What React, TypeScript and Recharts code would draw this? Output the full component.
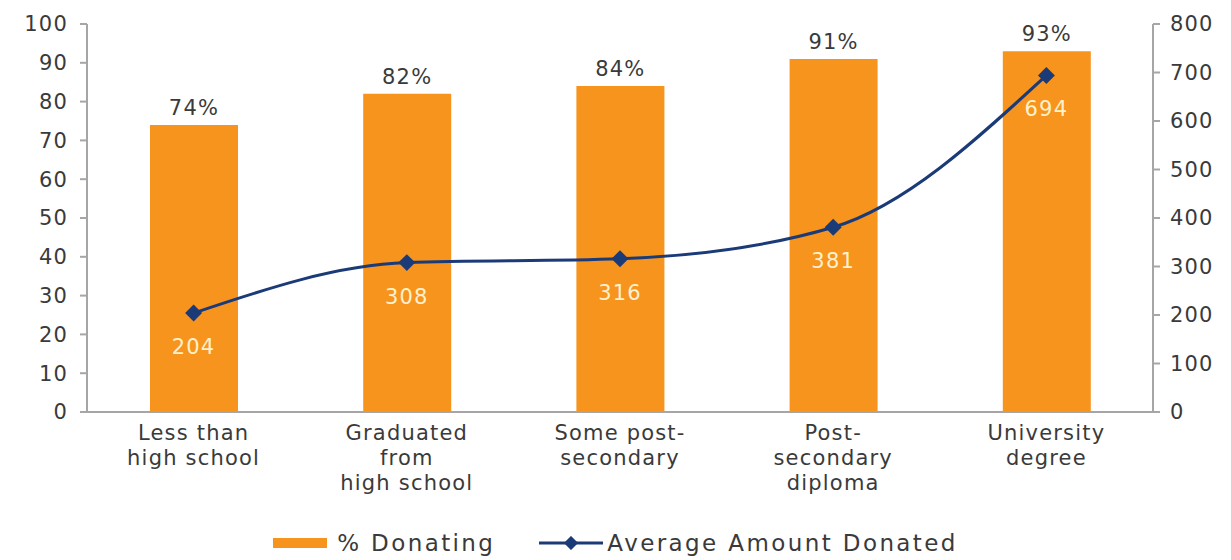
import {
  ComposedChart,
  Bar,
  Line,
  XAxis,
  YAxis,
  LabelList,
  Legend,
} from "recharts";

const categories = [
  "Less than\nhigh school",
  "Graduated\nfrom\nhigh school",
  "Some post-\nsecondary",
  "Post-\nsecondary\ndiploma",
  "University\ndegree",
];
const pctDonating = [74, 82, 84, 91, 93];
const avgDonated = [204, 308, 316, 381, 694];
const leftTicks = [0, 10, 20, 30, 40, 50, 60, 70, 80, 90, 100];
const rightTicks = [0, 100, 200, 300, 400, 500, 600, 700, 800];

const ORANGE = "#F7941D";
const NAVY = "#1B3A78";
const AXIS = "#A6A6A6";
const TEXT = "#3A3A3A";
const FONT = "'DejaVu Sans', sans-serif";

const data = categories.map((name, i) => ({
  name,
  pct: pctDonating[i],
  avg: avgDonated[i],
}));

function CategoryTick({ x, y, payload }: any) {
  const lines = String(payload.value).split("\n");
  return (
    <text
      x={x}
      y={y}
      textAnchor="middle"
      fill={TEXT}
      fontSize={21}
      fontFamily={FONT}
      letterSpacing={1.2}
    >
      {lines.map((l, i) => (
        <tspan key={i} x={x} dy={i === 0 ? 20 : 25}>
          {l}
        </tspan>
      ))}
    </text>
  );
}

function Diamond({ cx, cy }: any) {
  if (cx == null || cy == null) return null;
  return (
    <rect
      x={cx - 6}
      y={cy - 6}
      width={12}
      height={12}
      fill={NAVY}
      transform={`rotate(45 ${cx} ${cy})`}
    />
  );
}

function LegendBox() {
  return (
    <div
      style={{
        display: "flex",
        justifyContent: "center",
        alignItems: "center",
        fontFamily: FONT,
        fontSize: 23,
        color: TEXT,
        letterSpacing: 2.4,
        height: 30,
      }}
    >
      <svg width={54} height={14} style={{ marginRight: 10 }}>
        <rect x={0} y={2} width={54} height={10} fill={ORANGE} />
      </svg>
      <span style={{ marginRight: 44 }}>% Donating</span>
      <svg width={64} height={14} style={{ marginRight: 4 }}>
        <line x1={0} y1={7} x2={64} y2={7} stroke={NAVY} strokeWidth={3} />
        <rect
          x={27}
          y={2}
          width={10}
          height={10}
          fill={NAVY}
          transform="rotate(45 32 7)"
        />
      </svg>
      <span>Average Amount Donated</span>
    </div>
  );
}

export default function App() {
  const tickStyle = {
    fill: TEXT,
    fontSize: 21,
    fontFamily: FONT,
    letterSpacing: 1.2,
  };
  return (
    <div style={{ position: "absolute", left: 0, top: 0, background: "#fff" }}>
      <ComposedChart
        width={1231}
        height={560}
        data={data}
        margin={{ top: 24, right: 0, left: 0, bottom: 2 }}
      >
        <XAxis
          dataKey="name"
          interval={0}
          height={116}
          stroke={AXIS}
          strokeWidth={2}
          tickLine={false}
          tick={<CategoryTick />}
        />
        <YAxis
          yAxisId="left"
          domain={[0, 100]}
          ticks={leftTicks}
          width={87}
          stroke={AXIS}
          strokeWidth={2}
          tickSize={7}
          tickMargin={12}
          tick={tickStyle}
          interval={0}
        />
        <YAxis
          yAxisId="right"
          orientation="right"
          domain={[0, 800]}
          ticks={rightTicks}
          width={78}
          stroke={AXIS}
          strokeWidth={2}
          tickSize={7}
          tickMargin={10}
          tick={tickStyle}
          interval={0}
        />
        <Bar
          yAxisId="left"
          dataKey="pct"
          fill={ORANGE}
          barSize={88}
          isAnimationActive={false}
        >
          <LabelList
            dataKey="pct"
            position="top"
            offset={10}
            formatter={(v: any) => `${v}%`}
            style={{ fill: TEXT, fontSize: 21, fontFamily: FONT, letterSpacing: 1.2 }}
          />
        </Bar>
        <Line
          yAxisId="right"
          dataKey="avg"
          type="monotone"
          stroke={NAVY}
          strokeWidth={3}
          dot={<Diamond />}
          activeDot={false}
          isAnimationActive={false}
        >
          <LabelList
            dataKey="avg"
            position="bottom"
            offset={26}
            style={{ fill: "#FFF1CC", fontSize: 21, fontFamily: FONT, letterSpacing: 1.2 }}
          />
        </Line>
        <Legend verticalAlign="bottom" height={30} content={() => <LegendBox />} />
      </ComposedChart>
    </div>
  );
}
